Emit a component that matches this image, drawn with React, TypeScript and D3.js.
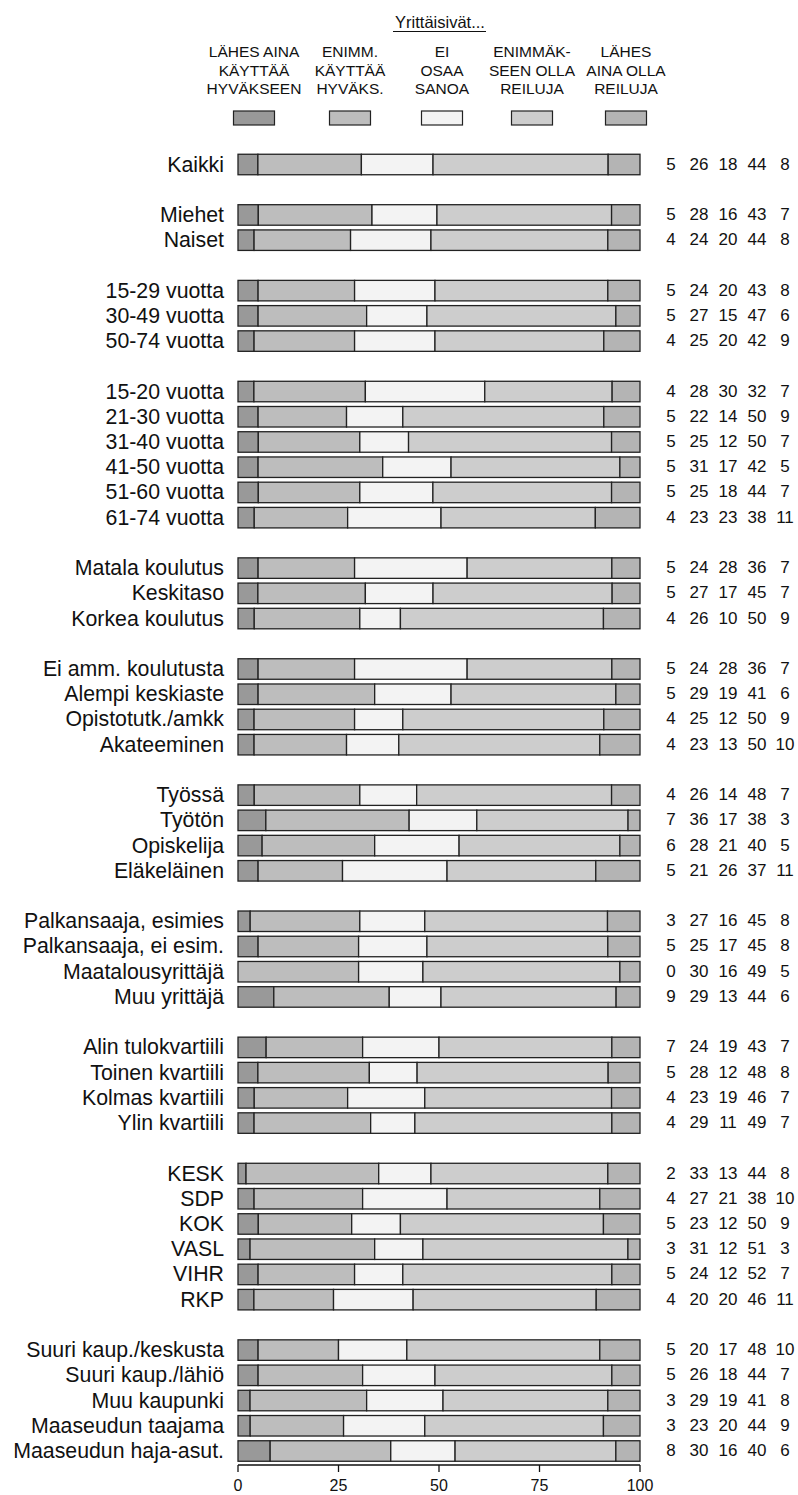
import React from "react";
import * as d3 from "d3";

const categories = [
  "Kaikki",
  "Miehet", "Naiset",
  "15-29 vuotta", "30-49 vuotta", "50-74 vuotta",
  "15-20 vuotta", "21-30 vuotta", "31-40 vuotta", "41-50 vuotta", "51-60 vuotta", "61-74 vuotta",
  "Matala koulutus", "Keskitaso", "Korkea koulutus",
  "Ei amm. koulutusta", "Alempi keskiaste", "Opistotutk./amkk", "Akateeminen",
  "Työssä", "Työtön", "Opiskelija", "Eläkeläinen",
  "Palkansaaja, esimies", "Palkansaaja, ei esim.", "Maatalousyrittäjä", "Muu yrittäjä",
  "Alin tulokvartiili", "Toinen kvartiili", "Kolmas kvartiili", "Ylin kvartiili",
  "KESK", "SDP", "KOK", "VASL", "VIHR", "RKP",
  "Suuri kaup./keskusta", "Suuri kaup./lähiö", "Muu kaupunki", "Maaseudun taajama", "Maaseudun haja-asut.",
];
const groupSizes = [1, 2, 3, 6, 3, 4, 4, 4, 4, 6, 5];

const lahesAinaKayttaa = [5, 5, 4, 5, 5, 4, 4, 5, 5, 5, 5, 4, 5, 5, 4, 5, 5, 4, 4, 4, 7, 6, 5, 3, 5, 0, 9, 7, 5, 4, 4, 2, 4, 5, 3, 5, 4, 5, 5, 3, 3, 8];
const enimmKayttaa = [26, 28, 24, 24, 27, 25, 28, 22, 25, 31, 25, 23, 24, 27, 26, 24, 29, 25, 23, 26, 36, 28, 21, 27, 25, 30, 29, 24, 28, 23, 29, 33, 27, 23, 31, 24, 20, 20, 26, 29, 23, 30];
const eiOsaaSanoa = [18, 16, 20, 20, 15, 20, 30, 14, 12, 17, 18, 23, 28, 17, 10, 28, 19, 12, 13, 14, 17, 21, 26, 16, 17, 16, 13, 19, 12, 19, 11, 13, 21, 12, 12, 12, 20, 17, 18, 19, 20, 16];
const enimmReiluja = [44, 43, 44, 43, 47, 42, 32, 50, 50, 42, 44, 38, 36, 45, 50, 36, 41, 50, 50, 48, 38, 40, 37, 45, 45, 49, 44, 43, 48, 46, 49, 44, 38, 50, 51, 52, 46, 48, 44, 41, 44, 40];
const lahesAinaReiluja = [8, 7, 8, 8, 6, 9, 7, 9, 7, 5, 7, 11, 7, 7, 9, 7, 6, 9, 10, 7, 3, 5, 11, 8, 8, 5, 6, 7, 8, 7, 7, 8, 10, 9, 3, 7, 11, 10, 7, 8, 9, 6];

const seriesNames = [
  ["LÄHES AINA", "KÄYTTÄÄ", "HYVÄKSEEN"],
  ["ENIMM.", "KÄYTTÄÄ", "HYVÄKS."],
  ["EI", "OSAA", "SANOA"],
  ["ENIMMÄK-", "SEEN OLLA", "REILUJA"],
  ["LÄHES", "AINA OLLA", "REILUJA"],
];
const seriesColors = ["#999999", "#bdbdbd", "#f3f3f3", "#cdcdcd", "#b4b4b4"];
const legendTitle = "Yrittäisivät...";
const axisTicks = [0, 25, 50, 75, 100];

const series = [lahesAinaKayttaa, enimmKayttaa, eiOsaaSanoa, enimmReiluja, lahesAinaReiluja];

export default function App() {
  const W = 798;
  const H = 1495;
  const font = "Liberation Sans, Arial, sans-serif";

  const rowIdx: number[] = [];
  let r = 0;
  groupSizes.forEach((g) => {
    for (let k = 0; k < g; k++) rowIdx.push(r++);
    r++;
  });
  const lastRow = rowIdx[rowIdx.length - 1];

  const x = d3.scaleLinear().domain([0, 100]).range([238, 640]);
  const y = d3.scaleLinear().domain([0, lastRow]).range([164.5, 1451]);
  const barH = 20.5;

  const table = categories.map((c, i) => {
    const o: any = { cat: c };
    series.forEach((s, j) => (o["s" + j] = s[i]));
    return o;
  });
  const keys = series.map((_, j) => "s" + j);
  const stacked = d3.stack<any>().keys(keys).offset(d3.stackOffsetExpand)(table);

  const numX = [671, 699, 728, 757, 785];
  const legendX = [254, 350, 442, 532, 626];
  const axisY = 1465;

  return (
    <svg width={W} height={H} style={{ display: "block", position: "absolute", left: 0, top: 0 }} fontFamily={font}>
      <rect x={0} y={0} width={W} height={H} fill="#fff" />
      <text x={440} y={28} textAnchor="middle" fontSize={16.5} fill="#111">{legendTitle}</text>
      <line x1={393} x2={486} y1={31.5} y2={31.5} stroke="#111" strokeWidth={1} />
      {seriesNames.map((lines, j) => (
        <g key={j}>
          {lines.map((t, li) => (
            <text key={li} x={legendX[j]} y={57 + li * 18.6} textAnchor="middle" fontSize={15.5} fill="#111">{t}</text>
          ))}
          <rect x={legendX[j] - 20.5} y={111} width={41} height={14} fill={seriesColors[j]} stroke="#222" strokeWidth={1.2} />
        </g>
      ))}
      {stacked.map((layer, j) => (
        <g key={j}>
          {layer.map((d, i) => {
            const w = x(d[1] * 100) - x(d[0] * 100);
            if (w <= 0) return null;
            return (
              <rect key={i} x={x(d[0] * 100)} y={y(rowIdx[i]) - barH / 2} width={w} height={barH}
                fill={seriesColors[j]} stroke="#222" strokeWidth={1.3} />
            );
          })}
        </g>
      ))}
      {categories.map((c, i) => (
        <text key={c} x={224} y={y(rowIdx[i]) + 7} textAnchor="end" fontSize={21.3} fill="#111">{c}</text>
      ))}
      {categories.map((c, i) => (
        <g key={"n" + i}>
          {series.map((s, j) => (
            <text key={j} x={numX[j]} y={y(rowIdx[i]) + 5} textAnchor="middle" fontSize={17} fill="#111">{s[i]}</text>
          ))}
        </g>
      ))}
      <line x1={x(0)} x2={x(100)} y1={axisY} y2={axisY} stroke="#111" strokeWidth={1.3} />
      {axisTicks.map((t) => (
        <g key={t}>
          <line x1={x(t)} x2={x(t)} y1={axisY} y2={axisY + 7} stroke="#111" strokeWidth={1.3} />
          <text x={x(t)} y={axisY + 26} textAnchor="middle" fontSize={16} fill="#111">{t}</text>
        </g>
      ))}
    </svg>
  );
}
